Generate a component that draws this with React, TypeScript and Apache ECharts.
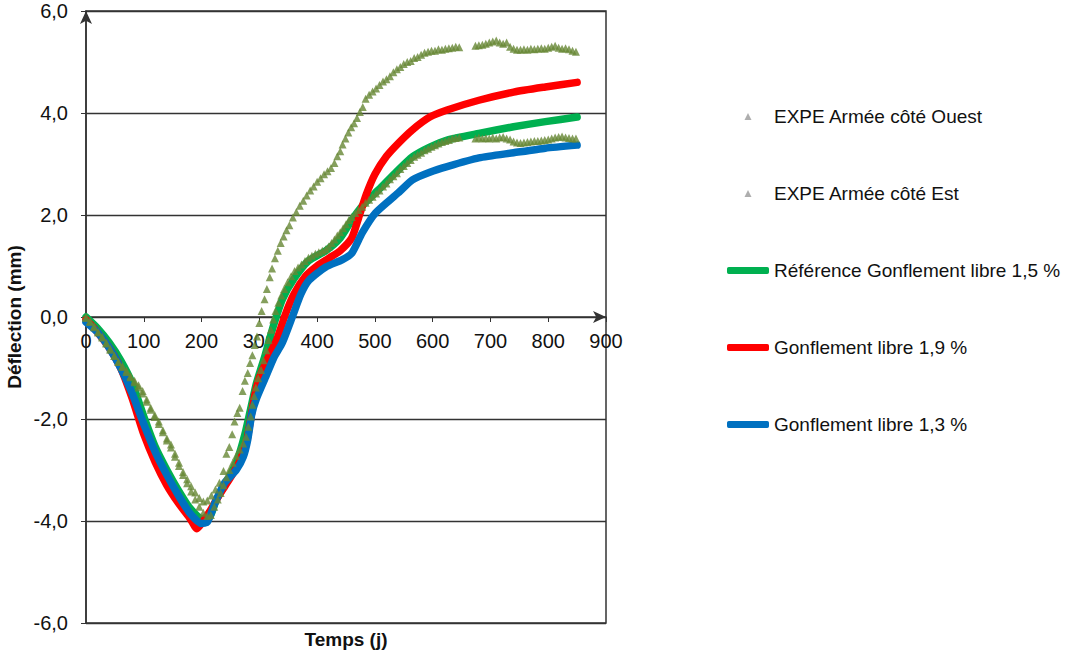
import React, { useEffect, useRef } from "react";
import * as echarts from "echarts";

const seriesNames = [
  "EXPE Armée côté Ouest",
  "EXPE Armée côté Est",
  "Référence Gonflement libre 1,5 %",
  "Gonflement libre 1,9 %",
  "Gonflement libre 1,3 %",
];

const xTicks = [0, 100, 200, 300, 400, 500, 600, 700, 800, 900];
const yTicks = [-6, -4, -2, 0, 2, 4, 6];

const ouestData: number[][] = [
  [0, 0.0], [7, -0.08], [14, -0.18], [21, -0.3], [28, -0.38], [35, -0.5], [42, -0.62], [49, -0.76],
  [56, -0.88], [63, -0.96], [70, -1.05], [77, -1.16], [84, -1.25], [91, -1.34], [98, -1.45],
  [105, -1.62], [112, -1.78], [119, -1.92], [126, -2.05], [133, -2.22], [140, -2.38], [147, -2.5],
  [154, -2.68], [161, -2.86], [168, -3.04], [175, -3.18], [182, -3.32], [189, -3.44], [196, -3.55],
  [203, -3.62], [210, -3.6], [217, -3.5], [224, -3.38], [231, -3.25], [238, -3.02], [243, -2.68],
  [248, -2.55], [253, -2.3], [257, -2.05], [262, -1.88], [266, -1.78], [271, -1.45], [275, -1.25],
  [280, -1.1], [284, -0.9], [288, -0.75], [292, -0.55], [296, -0.38], [300, -0.12], [304, 0.12],
  [309, 0.35], [313, 0.55], [318, 0.78], [322, 0.95], [327, 1.15], [332, 1.3], [337, 1.45],
  [342, 1.58], [347, 1.7], [352, 1.8], [358, 1.95], [364, 2.06], [370, 2.18], [376, 2.28],
  [382, 2.38], [388, 2.48], [394, 2.56], [400, 2.65], [406, 2.72], [412, 2.8], [418, 2.86],
  [424, 2.92], [430, 3.02], [435, 3.15], [440, 3.25], [444, 3.38], [449, 3.5], [454, 3.62],
  [459, 3.72], [464, 3.8], [469, 3.9], [474, 4.02], [479, 4.12], [484, 4.28], [490, 4.36],
  [496, 4.42], [502, 4.48], [508, 4.55], [514, 4.62], [520, 4.66], [526, 4.72], [532, 4.8],
  [538, 4.86], [544, 4.9], [550, 4.96], [556, 5.0], [562, 5.02], [568, 5.08], [574, 5.1],
  [580, 5.14], [586, 5.18], [592, 5.2], [598, 5.22], [604, 5.22], [610, 5.25], [616, 5.24],
  [622, 5.26], [628, 5.27], [634, 5.28], [640, 5.3], [646, 5.29],
  [674, 5.32], [680, 5.33], [686, 5.34], [692, 5.36], [698, 5.38], [704, 5.4], [710, 5.42],
  [716, 5.38], [722, 5.36], [728, 5.38], [734, 5.3], [740, 5.26], [746, 5.24], [752, 5.24],
  [758, 5.25], [764, 5.24], [770, 5.26], [776, 5.25], [782, 5.26], [788, 5.27], [794, 5.26],
  [800, 5.28], [806, 5.3], [812, 5.32], [818, 5.28], [824, 5.26], [830, 5.27], [836, 5.25],
  [842, 5.22], [848, 5.2],
];

const estData: number[][] = [
  [0, -0.02], [7, -0.1], [14, -0.2], [21, -0.3], [28, -0.4], [35, -0.52], [42, -0.64], [49, -0.76],
  [56, -0.88], [63, -0.98], [70, -1.08], [77, -1.18], [84, -1.28], [91, -1.38], [98, -1.5],
  [105, -1.66], [112, -1.82], [119, -1.96], [126, -2.1], [133, -2.26], [140, -2.42], [147, -2.56],
  [154, -2.74], [161, -2.92], [168, -3.1], [175, -3.26], [182, -3.42], [189, -3.58], [196, -3.72],
  [203, -3.84], [210, -3.9], [216, -3.88], [222, -3.72], [228, -3.58], [233, -3.45], [238, -3.3],
  [243, -3.14], [248, -3.0], [254, -2.86], [260, -2.72], [266, -2.6], [272, -2.48], [277, -2.35],
  [281, -2.15], [285, -1.95], [288, -1.72], [291, -1.55], [294, -1.38], [298, -1.2], [303, -1.04],
  [307, -0.85], [312, -0.65], [316, -0.45], [320, -0.25], [324, -0.05], [328, 0.12], [333, 0.28],
  [338, 0.42], [343, 0.55], [349, 0.68], [355, 0.8], [361, 0.9], [367, 0.97], [373, 1.03],
  [379, 1.1], [385, 1.16], [391, 1.2], [397, 1.24], [403, 1.27], [409, 1.3], [415, 1.33],
  [420, 1.38], [425, 1.45], [430, 1.52], [435, 1.6], [440, 1.66], [445, 1.74], [450, 1.82],
  [455, 1.9], [460, 1.96], [466, 2.04], [472, 2.1], [478, 2.16], [484, 2.24], [490, 2.3],
  [496, 2.36], [502, 2.42], [508, 2.48], [514, 2.56], [520, 2.62], [526, 2.7], [532, 2.76],
  [538, 2.82], [544, 2.9], [550, 2.96], [556, 3.02], [562, 3.08], [568, 3.14], [574, 3.18],
  [580, 3.22], [586, 3.27], [592, 3.3], [598, 3.34], [604, 3.37], [610, 3.4], [616, 3.43],
  [622, 3.45], [628, 3.47], [634, 3.5], [640, 3.51], [646, 3.52],
  [674, 3.5], [680, 3.52], [686, 3.5], [692, 3.51], [698, 3.5], [704, 3.52], [710, 3.5],
  [716, 3.52], [722, 3.53], [728, 3.5], [734, 3.48], [740, 3.44], [746, 3.42], [752, 3.41],
  [758, 3.42], [764, 3.43], [770, 3.44], [776, 3.45], [782, 3.45], [788, 3.46], [794, 3.47],
  [800, 3.48], [806, 3.5], [812, 3.52], [818, 3.53], [824, 3.54], [830, 3.52], [836, 3.51],
  [842, 3.5], [848, 3.5],
];

const greenData: number[][] = [
  [0, 0], [20, -0.22], [40, -0.5], [60, -0.85], [80, -1.3], [100, -1.95], [120, -2.55],
  [140, -3.0], [160, -3.4], [180, -3.75], [200, -3.95], [212, -3.95], [225, -3.6], [245, -3.2],
  [262, -2.8], [275, -2.3], [285, -1.8], [295, -1.3], [310, -0.75], [325, -0.15], [340, 0.35],
  [360, 0.75], [385, 1.1], [415, 1.3], [440, 1.55], [460, 1.9], [480, 2.2], [505, 2.48],
  [535, 2.82], [565, 3.14], [595, 3.33], [625, 3.47], [680, 3.6], [740, 3.73], [795, 3.83],
  [850, 3.92],
];

const redData: number[][] = [
  [0, -0.05], [20, -0.3], [40, -0.6], [60, -1.0], [80, -1.6], [100, -2.3], [120, -2.85],
  [140, -3.3], [160, -3.65], [180, -3.95], [192, -4.15], [200, -4.05], [215, -3.8], [230, -3.5],
  [250, -3.15], [265, -2.85], [278, -2.45], [285, -2.0], [292, -1.55], [300, -1.2], [315, -0.8],
  [330, -0.45], [345, 0.05], [360, 0.45], [380, 0.8], [400, 1.0], [420, 1.15], [440, 1.3],
  [460, 1.55], [472, 1.95], [485, 2.4], [500, 2.8], [520, 3.15], [540, 3.4], [565, 3.67],
  [595, 3.92], [625, 4.06], [680, 4.25], [740, 4.41], [795, 4.51], [850, 4.6],
];

const blueData: number[][] = [
  [0, -0.1], [20, -0.3], [40, -0.6], [60, -1.0], [80, -1.5], [100, -2.1], [120, -2.65],
  [140, -3.1], [160, -3.5], [180, -3.85], [200, -4.05], [210, -4.02], [225, -3.6], [240, -3.25],
  [260, -3.0], [272, -2.75], [280, -2.4], [287, -1.9], [295, -1.6], [312, -1.15], [325, -0.8],
  [340, -0.5], [357, 0], [372, 0.45], [386, 0.72], [415, 0.98], [443, 1.12], [460, 1.25],
  [478, 1.65], [501, 2.04], [540, 2.43], [565, 2.69], [595, 2.84], [625, 2.95], [680, 3.12],
  [740, 3.22], [795, 3.31], [850, 3.37],
];

const colors = {
  olive: "#668735",
  green: "#00B050",
  red: "#FF0000",
  blue: "#0070C0",
  axis: "#333333",
};

const FONT = "Liberation Sans, Arial, sans-serif";
const TRI = "path://M5,0 L10,10 L0,10 Z";

export default function App() {
  const ref = useRef<HTMLDivElement>(null);

  useEffect(() => {
    document.body.style.margin = "0";
    if (!ref.current) return;
    const chart = echarts.init(ref.current, undefined, { renderer: "svg" });
    const fmt = (v: number) => v.toFixed(1).replace(".", ",");
    const lineSeries = (name: string, data: number[][], color: string, z: number) => ({
      name,
      type: "line",
      data,
      symbol: "none",
      showSymbol: false,
      smooth: 0.2,
      lineStyle: { color, width: 7.5, cap: "round", join: "round" },
      itemStyle: { color },
      z,
    });
    chart.setOption({
      animation: false,
      backgroundColor: "#ffffff",
      textStyle: { fontFamily: FONT },
      grid: {
        left: 86,
        right: 462,
        top: 11,
        bottom: 30,
        outerBoundsMode: "none",
        containLabel: false,
        show: true,
        borderColor: colors.axis,
        borderWidth: 1.5,
        backgroundColor: "transparent",
      },
      legend: {
        orient: "vertical",
        left: 722,
        top: 102,
        itemWidth: 42,
        itemHeight: 7,
        itemGap: 58,
        textStyle: { fontFamily: FONT, fontSize: 19, color: "#111", lineHeight: 18 },
        data: [
          { name: seriesNames[0], icon: TRI, itemStyle: { color: "#9a9a9a" } },
          { name: seriesNames[1], icon: TRI, itemStyle: { color: "#9a9a9a" } },
          { name: seriesNames[2], icon: "roundRect", itemStyle: { color: colors.green } },
          { name: seriesNames[3], icon: "roundRect", itemStyle: { color: colors.red } },
          { name: seriesNames[4], icon: "roundRect", itemStyle: { color: colors.blue } },
        ],
      },
      xAxis: {
        type: "value",
        min: xTicks[0],
        max: xTicks[xTicks.length - 1],
        interval: 100,
        name: "Temps (j)",
        nameLocation: "middle",
        nameGap: 7,
        nameTextStyle: {
          fontFamily: FONT,
          fontSize: 19,
          fontWeight: "bold",
          color: "#111",
          verticalAlign: "top",
        },
        axisLine: {
          onZero: true,
          symbol: ["none", "arrow"],
          symbolSize: [9, 13],
          lineStyle: { color: colors.axis, width: 1.5 },
        },
        axisTick: { show: true, length: 5, lineStyle: { color: colors.axis } },
        axisLabel: { fontFamily: FONT, fontSize: 20, color: "#111", margin: -292 },
        splitLine: { show: false },
      },
      yAxis: {
        type: "value",
        min: yTicks[0],
        max: yTicks[yTicks.length - 1],
        interval: 2,
        name: "Déflection (mm)",
        nameLocation: "middle",
        nameGap: 62,
        nameRotate: 90,
        nameTextStyle: { fontFamily: FONT, fontSize: 19, fontWeight: "bold", color: "#111" },
        axisLine: {
          onZero: false,
          symbol: ["none", "arrow"],
          symbolSize: [9, 13],
          lineStyle: { color: colors.axis, width: 1.5 },
        },
        axisTick: { show: true, length: 5, lineStyle: { color: colors.axis } },
        axisLabel: { fontFamily: FONT, fontSize: 20, color: "#111", margin: 18, formatter: fmt },
        splitLine: { show: true, lineStyle: { color: colors.axis, width: 1.3 } },
      },
      series: [
        {
          name: seriesNames[0],
          type: "scatter",
          data: ouestData,
          symbol: "triangle",
          symbolSize: 8,
          itemStyle: { color: colors.olive },
          z: 5,
        },
        {
          name: seriesNames[1],
          type: "scatter",
          data: estData,
          symbol: "triangle",
          symbolSize: 8,
          itemStyle: { color: colors.olive },
          z: 5,
        },
        lineSeries(seriesNames[2], greenData, colors.green, 2),
        lineSeries(seriesNames[3], redData, colors.red, 3),
        lineSeries(seriesNames[4], blueData, colors.blue, 4),
      ],
    });
    return () => chart.dispose();
  }, []);

  return <div ref={ref} style={{ width: 1068, height: 653 }} />;
}
